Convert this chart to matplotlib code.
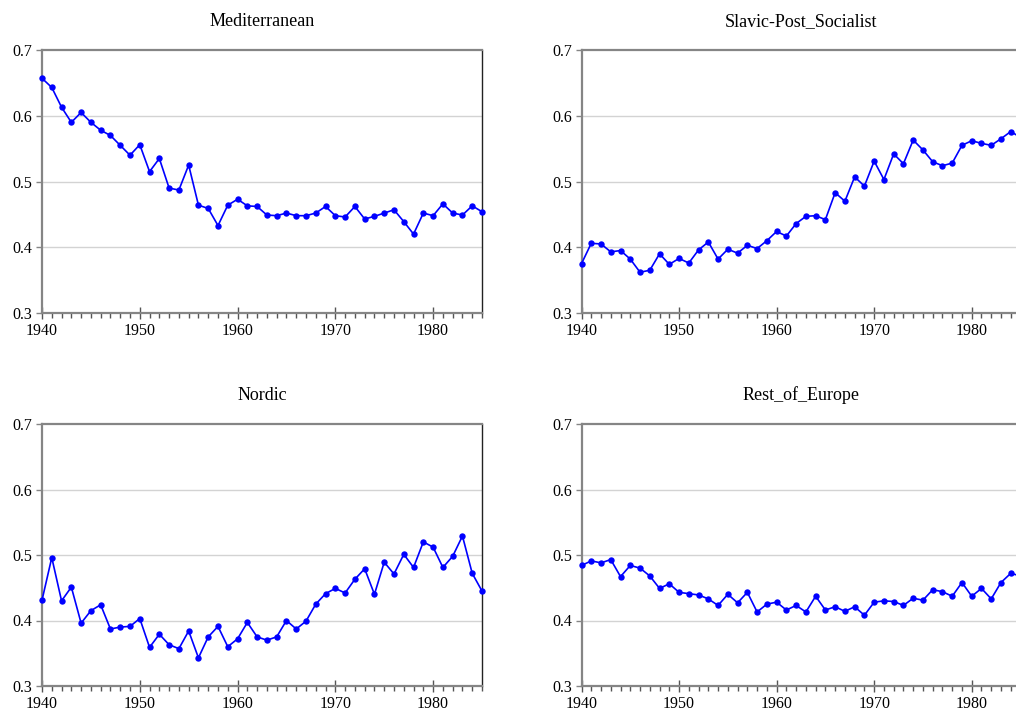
import matplotlib
matplotlib.use("Agg")
import matplotlib.pyplot as plt
from matplotlib.ticker import MultipleLocator, FixedLocator

years = list(range(1940, 1986))

mediterranean = [
    0.657, 0.643, 0.613, 0.590, 0.605, 0.590, 0.578, 0.570, 0.555, 0.540,
    0.556, 0.515, 0.535, 0.490, 0.487, 0.525, 0.464, 0.459, 0.433, 0.464,
    0.473, 0.463, 0.462, 0.449, 0.448, 0.452, 0.448, 0.448, 0.452, 0.462,
    0.448, 0.446, 0.462, 0.443, 0.447, 0.452, 0.457, 0.439, 0.420, 0.452,
    0.448, 0.466, 0.452, 0.449, 0.463, 0.454,
]

slavic_post_socialist = [
    0.375, 0.406, 0.405, 0.393, 0.395, 0.382, 0.362, 0.365, 0.390, 0.374,
    0.383, 0.376, 0.396, 0.408, 0.382, 0.397, 0.391, 0.403, 0.398, 0.410,
    0.424, 0.417, 0.436, 0.447, 0.448, 0.442, 0.483, 0.470, 0.507, 0.493,
    0.531, 0.503, 0.542, 0.527, 0.563, 0.548, 0.530, 0.524, 0.528, 0.555,
    0.562, 0.558, 0.555, 0.565, 0.576, 0.567,
]

nordic = [
    0.431, 0.496, 0.430, 0.451, 0.396, 0.415, 0.424, 0.387, 0.390, 0.391,
    0.403, 0.359, 0.379, 0.363, 0.357, 0.384, 0.343, 0.375, 0.391, 0.360,
    0.372, 0.397, 0.375, 0.370, 0.375, 0.400, 0.387, 0.399, 0.425, 0.441,
    0.449, 0.442, 0.463, 0.479, 0.440, 0.489, 0.471, 0.501, 0.481, 0.520,
    0.512, 0.481, 0.498, 0.529, 0.472, 0.445,
]

rest_of_europe = [
    0.484, 0.491, 0.488, 0.493, 0.467, 0.484, 0.480, 0.468, 0.449, 0.456,
    0.443, 0.441, 0.439, 0.433, 0.423, 0.440, 0.427, 0.443, 0.413, 0.425,
    0.428, 0.416, 0.423, 0.413, 0.437, 0.416, 0.421, 0.414, 0.421, 0.408,
    0.428, 0.430, 0.429, 0.423, 0.434, 0.431, 0.447, 0.444, 0.437, 0.458,
    0.437, 0.449, 0.433, 0.458, 0.472, 0.468,
]

titles = ["Mediterranean", "Slavic-Post_Socialist", "Nordic", "Rest_of_Europe"]
series = [mediterranean, slavic_post_socialist, nordic, rest_of_europe]

plt.rcParams["font.family"] = ["Liberation Serif", "DejaVu Serif"]

fig = plt.figure(figsize=(10.16, 7.13), dpi=100)

W, H = 1016.0, 713.0
# panel boxes in pixels: (left, top, right, bottom)
boxes = [
    (42, 50, 482, 313),
    (581.5, 50, 1020.5, 313),
    (42, 424, 482, 686),
    (581.5, 424, 1020.5, 686),
]

spine_gray = "#858585"
for (l, t, r, b), title, vals in zip(boxes, titles, series):
    ax = fig.add_axes([l / W, 1 - b / H, (r - l) / W, (b - t) / H])
    ax.plot(years, vals, color="#0000ff", lw=1.2, marker="o", ms=4.6,
            markeredgewidth=0, zorder=3, clip_on=False)
    ax.set_xlim(1940, 1985)
    ax.set_ylim(0.3, 0.7)
    ax.yaxis.set_major_locator(FixedLocator([0.3, 0.4, 0.5, 0.6, 0.7]))
    ax.set_yticklabels(["0.3", "0.4", "0.5", "0.6", "0.7"])
    ax.xaxis.set_major_locator(FixedLocator([1940, 1950, 1960, 1970, 1980]))
    ax.xaxis.set_minor_locator(MultipleLocator(1))
    for g in (0.4, 0.5, 0.6):
        ax.axhline(g, color="#d3d3d3", lw=1.0, zorder=1)
    for side in ("left", "top", "bottom"):
        ax.spines[side].set_color(spine_gray)
        ax.spines[side].set_linewidth(1.6)
    ax.spines["right"].set_color("#222222")
    ax.spines["right"].set_linewidth(1.0)
    ax.tick_params(axis="y", which="major", direction="out", length=4,
                   width=1, color=spine_gray, labelsize=11.5, pad=3)
    ax.tick_params(axis="x", which="major", direction="inout", length=8,
                   width=1, color="#555555", labelsize=11.5, pad=3.5)
    ax.tick_params(axis="x", which="minor", direction="out", length=3.5,
                   width=1, color="#555555")
    ax.set_title(title, fontsize=13, pad=17)

fig.savefig("out.png", dpi=100)
